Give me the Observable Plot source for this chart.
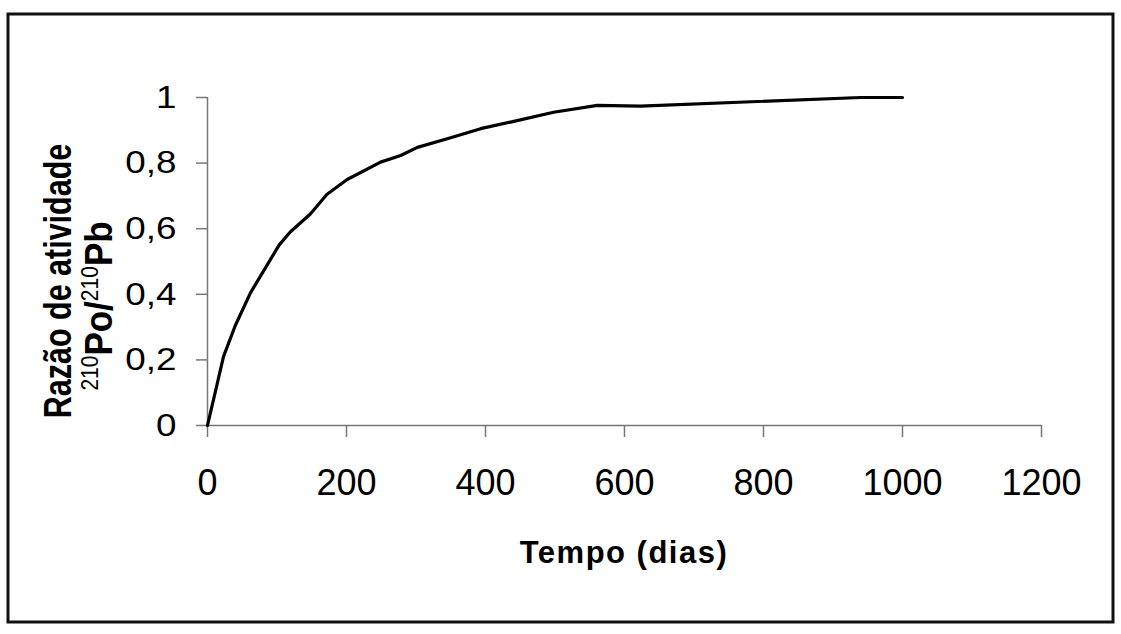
<!DOCTYPE html>
<html>
<head>
<meta charset="utf-8">
<script src="https://cdn.jsdelivr.net/npm/d3@7"></script>
<script src="https://cdn.jsdelivr.net/npm/@observablehq/plot@0.6"></script>
<style>
  html, body { margin: 0; padding: 0; background: #fff; }
  #chart { width: 1121px; height: 634px; overflow: hidden; }
</style>
</head>
<body>
<div id="chart"></div>
<script>
// Data
const days  = [0, 23, 40, 62, 103, 119, 148, 172, 201, 249, 278, 302, 345, 393, 436, 498, 561, 623, 940, 1000];
const ratio = [0, 0.21, 0.305, 0.405, 0.55, 0.59, 0.645, 0.705, 0.75, 0.803, 0.823, 0.848, 0.874, 0.905, 0.925, 0.955, 0.976, 0.974, 1.0, 1.0];
const xTicks = [0, 200, 400, 600, 800, 1000, 1200];
const yTicks = [0, 0.2, 0.4, 0.6, 0.8, 1];
const xTitle = "Tempo (dias)";
const yTitle1 = "Razão de atividade";
const yTitle2 = [["210", true], ["Po/", false], ["210", true], ["Pb", false]];

const data = days.map((d, i) => ({days: d, ratio: ratio[i]}));
const font = "'Liberation Sans', Arial, sans-serif";

const plot = Plot.plot({
  width: 1121,
  height: 634,
  marginLeft: 207,
  marginRight: 80,
  marginTop: 97,
  marginBottom: 209,
  style: {fontFamily: font, background: "#fff", color: "#000"},
  x: {domain: [0, 1200]},
  y: {domain: [0, 1]},
  marks: [
    Plot.axisX({ticks: xTicks, tickSize: 12, tickPadding: 32, fontSize: 36, label: null, stroke: "#777", strokeWidth: 1.5, tickFormat: d => String(d)}),
    Plot.axisY({ticks: yTicks, tickSize: 11, tickPadding: 20, fontSize: 32, label: null, stroke: "#777", strokeWidth: 1.5, tickFormat: d => String(d).replace(".", ",")}),
    Plot.ruleY([0], {stroke: "#777", strokeWidth: 1.5}),
    Plot.ruleX([0], {stroke: "#777", strokeWidth: 1.5}),
    Plot.line(data, {x: "days", y: "ratio", stroke: "#000", strokeWidth: 3.2, strokeLinejoin: "round", strokeLinecap: "round"})
  ]
});

const svg = d3.select(plot);
// slightly wider y tick labels, as in the reference
svg.selectAll('[aria-label="y-axis tick label"] text').each(function() {
  const t = d3.select(this);
  t.attr("transform", (t.attr("transform") || "") + " scale(1.15,1)");
});
// x-axis title
svg.append("text")
  .attr("x", 624).attr("y", 563)
  .attr("text-anchor", "middle")
  .attr("font-family", font).attr("font-weight", "bold")
  .attr("font-size", 31).attr("letter-spacing", 1.5)
  .attr("fill", "#000")
  .text(xTitle);
// y-axis title (two lines, rotated)
svg.append("text")
  .attr("transform", "translate(71,281) scale(1.3,1) rotate(-90)")
  .attr("text-anchor", "middle")
  .attr("font-family", font).attr("font-weight", "bold")
  .attr("font-size", 30.5).attr("fill", "#000")
  .text(yTitle1);
const t2 = svg.append("text")
  .attr("transform", "translate(112,306) scale(1.1,1) rotate(-90)")
  .attr("text-anchor", "middle")
  .attr("font-family", font).attr("font-weight", "bold")
  .attr("font-size", 35).attr("fill", "#000");
yTitle2.forEach(([s, sup]) => {
  const ts = t2.append("tspan").text(s);
  if (sup) ts.attr("font-size", 21).attr("font-weight", "normal").attr("dy", -13);
  else ts.attr("dy", 13);
});
// outer frame
svg.append("rect")
  .attr("x", 8).attr("y", 14).attr("width", 1105).attr("height", 608)
  .attr("fill", "none").attr("stroke", "#111").attr("stroke-width", 3);

document.getElementById("chart").appendChild(plot);
</script>
</body>
</html>
